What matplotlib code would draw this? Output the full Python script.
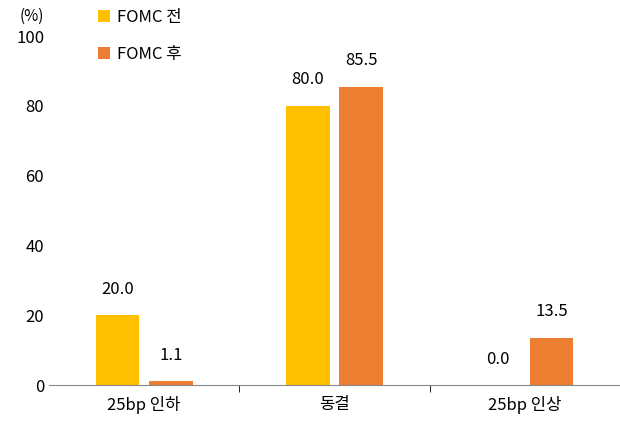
import matplotlib
matplotlib.use("Agg")
import matplotlib.pyplot as plt
import numpy as np

plt.rcParams['font.family'] = ['Noto Sans CJK KR', 'DejaVu Sans']

categories = ['25bp 인하', '동결', '25bp 인상']
before = [20.0, 80.0, 0.0]
after = [1.1, 85.5, 13.5]
series_names = ['FOMC 전', 'FOMC 후']

fig = plt.figure(figsize=(6.2, 4.3), dpi=100)
ax = fig.add_axes([49/620, 45/430, 571/620, 349/430])
x = np.arange(len(categories))
w = 0.23
b1 = ax.bar(x - 0.14, before, w, color='#FFC000', label=series_names[0])
b2 = ax.bar(x + 0.14, after, w, color='#ED7D31', label=series_names[1])
for bars, vals in ((b1, before), (b2, after)):
    for r, v in zip(bars, vals):
        ax.text(r.get_x() + r.get_width()/2, v + 5, f'{v:.1f}', ha='center', va='bottom', fontsize=12)
ax.set_xlim(-0.5, 2.5)
ax.set_ylim(0, 100)
ax.set_yticks(range(0, 101, 20))
ax.set_xticks(x)
ax.set_xticklabels(categories, fontsize=12)
ax.set_xticks([0.5, 1.5], minor=True)
ax.tick_params(axis='x', which='major', length=0, pad=8)
ax.tick_params(axis='x', which='minor', length=5, direction='out')
ax.tick_params(axis='y', length=0, labelsize=12)
for s in ['top', 'right', 'left']:
    ax.spines[s].set_visible(False)
ax.spines['bottom'].set_color('#888888')
fig.text(20/620, 1 - 16/430, '(%)', fontsize=11, va='center')
ax.legend(loc='upper left', bbox_to_anchor=(0.06, 1.12), frameon=False, fontsize=12,
          handlelength=0.7, handleheight=0.7, labelspacing=1.2, handletextpad=0.4)
fig.savefig('out.png', dpi=100)
